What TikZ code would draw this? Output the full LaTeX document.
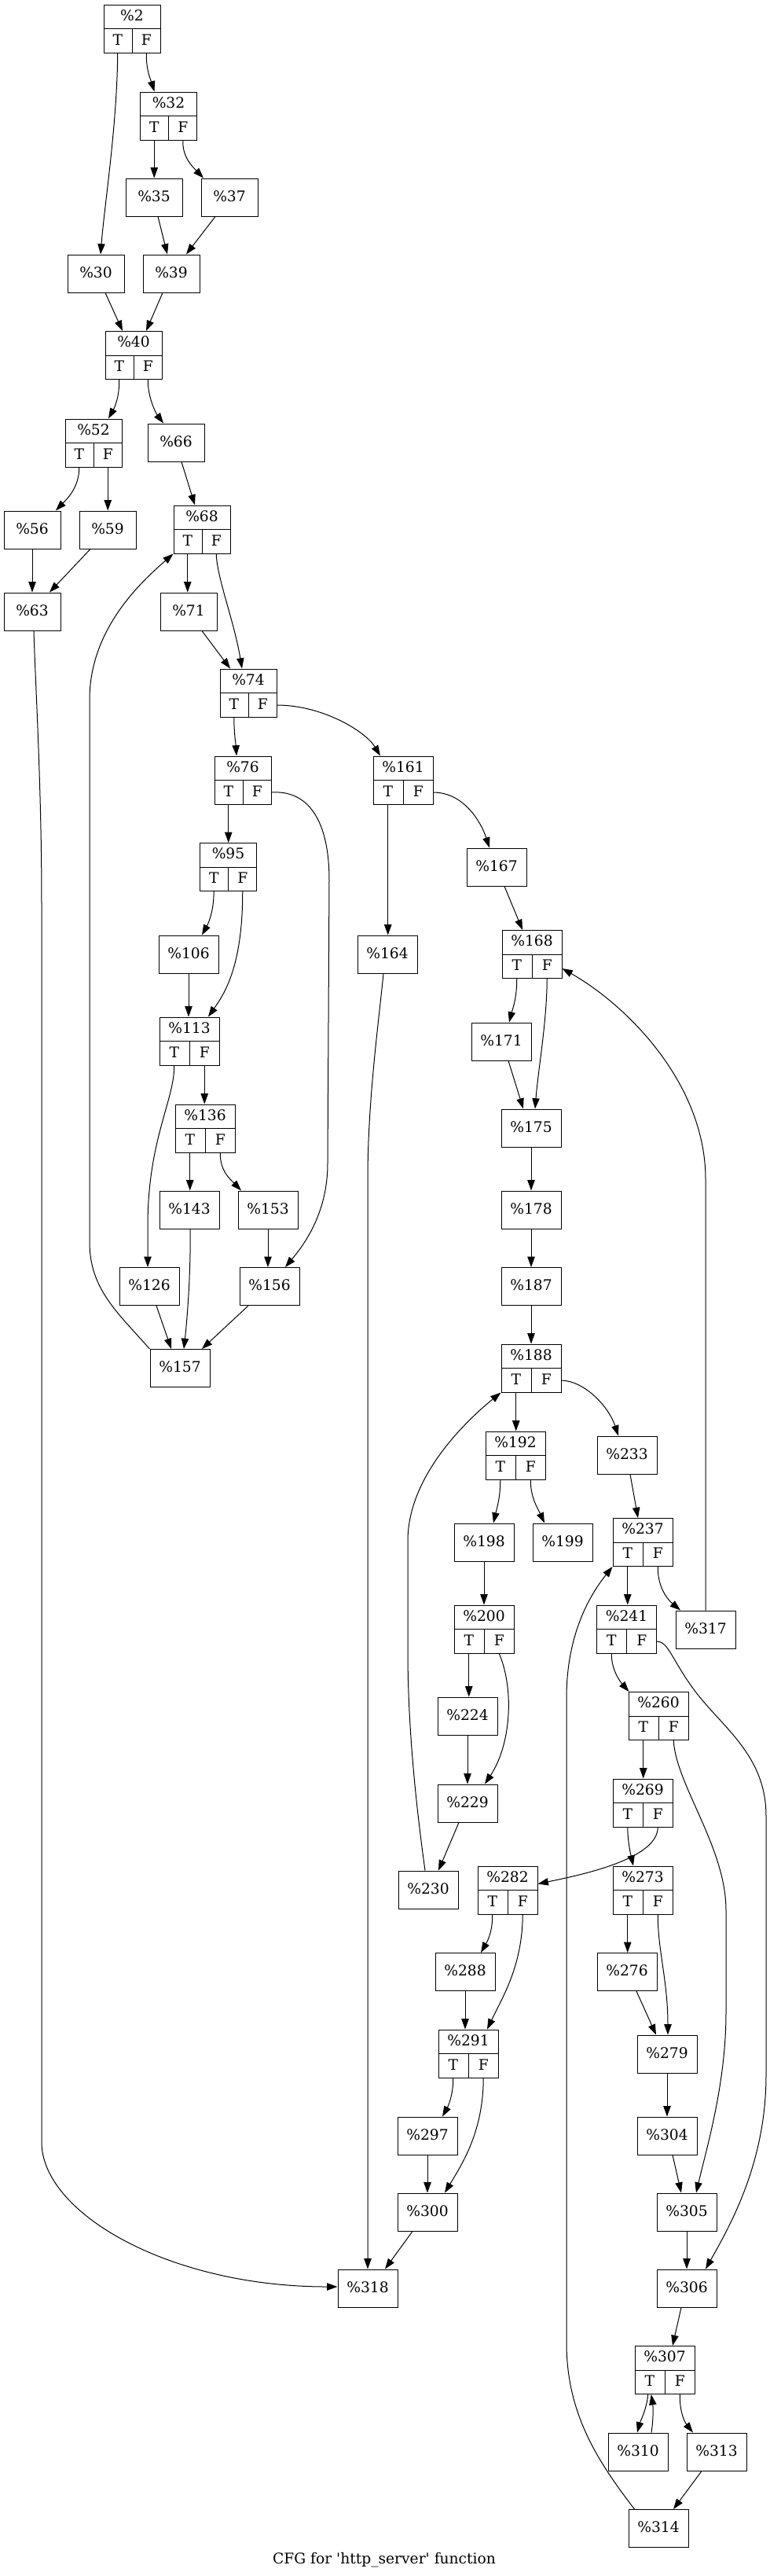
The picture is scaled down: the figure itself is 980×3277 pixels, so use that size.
\documentclass[tikz,border=0pt]{standalone}
\usepackage{fontspec}
\setmainfont{DejaVu Serif}
\usetikzlibrary{arrows.meta,calc}
\tikzset{
 lbl/.style={font=\fontsize{14}{16}\selectfont, inner sep=0pt, text height=10.2pt, text depth=2.2pt},
 sbox/.style={draw, line width=0.75pt, minimum height=36pt, inner sep=0pt, lbl},
 rbox/.style={draw, line width=0.75pt, minimum height=45.75pt, inner sep=0pt},
 wa/.style={minimum width=54pt},
 wb/.style={minimum width=57pt},
 cline/.style={line width=0.75pt},
 e/.style={draw, line width=0.75pt, -{Triangle[length=10pt,width=7pt]}}
}
\newcommand\recbox[5]{%
 \node[rbox,#4] (#1) at (#2,#3) {};
 \draw[cline] (#1.west) -- (#1.east);
 \draw[cline] (#1.center) -- (#1.south);
 \node[lbl] (#1h) at ($(#1.north)!0.5!(#1.center)$) {#5};
 \node[lbl] (#1t) at ($(#1.south west)!0.5!(#1.center)$) {T};
 \node[lbl] (#1f) at ($(#1.south east)!0.5!(#1.center)$) {F};
 \coordinate (#1T) at ($(#1.south west)!0.5!(#1.south)$);
 \coordinate (#1F) at ($(#1.south)!0.5!(#1.south east)$);
 \coordinate (#1Fe) at ($(#1.east)!0.5!(#1.south east)$);
}
\begin{document}
\begin{tikzpicture}[x=0.75pt,y=-0.75pt]
\useasboundingbox (0,0) rectangle (980,3277);
% record nodes
\recbox{n2}{168}{36.5}{wa}{\%2}
\recbox{n32}{214.5}{147.5}{wa}{\%32}
\recbox{n40}{170}{452}{wa}{\%40}
\recbox{n52}{119}{563.5}{wa}{\%52}
\recbox{n68}{257}{673.5}{wa}{\%68}
\recbox{n74}{316}{881.5}{wa}{\%74}
\recbox{n76}{309}{992.5}{wa}{\%76}
\recbox{n161}{513}{992.5}{wb}{\%161}
\recbox{n95}{290.5}{1103}{wa}{\%95}
\recbox{n168}{677}{1214}{wb}{\%168}
\recbox{n113}{241}{1324.5}{wb}{\%113}
\recbox{n136}{261}{1435.5}{wb}{\%136}
\recbox{n188}{676}{1740.5}{wb}{\%188}
\recbox{n192}{656}{1851.5}{wb}{\%192}
\recbox{n237}{818}{1962}{wb}{\%237}
\recbox{n200}{616}{2072.5}{wb}{\%200}
\recbox{n241}{797.5}{2072.5}{wb}{\%241}
\recbox{n260}{838}{2183}{wb}{\%260}
\recbox{n269}{818}{2293.5}{wb}{\%269}
\recbox{n282}{646}{2404.5}{wb}{\%282}
\recbox{n273}{818}{2404.5}{wb}{\%273}
\recbox{n291}{596}{2612.5}{wb}{\%291}
\recbox{n307}{846}{3015}{wb}{\%307}
% simple nodes
\node[sbox,wa] (n35) at (196,251) {\%35};
\node[sbox,wa] (n37) at (292,251) {\%37};
\node[sbox,wa] (n30) at (122,348) {\%30};
\node[sbox,wa] (n39) at (218,348) {\%39};
\node[sbox,wa] (n66) at (224,563) {\%66};
\node[sbox,wa] (n56) at (41,674) {\%56};
\node[sbox,wa] (n59) at (137,674) {\%59};
\node[sbox,wa] (n63) at (41,778) {\%63};
\node[sbox,wa] (n71) at (240,778) {\%71};
\node[sbox,wb] (n167) at (632,1103) {\%167};
\node[sbox,wb] (n106) at (240,1214) {\%106};
\node[sbox,wb] (n164) at (493,1214) {\%164};
\node[sbox,wb] (n171) at (638,1325) {\%171};
\node[sbox,wb] (n175) at (676,1435) {\%175};
\node[sbox,wb] (n143) at (241,1539) {\%143};
\node[sbox,wb] (n153) at (341,1539) {\%153};
\node[sbox,wb] (n178) at (676,1539) {\%178};
\node[sbox,wb] (n126) at (190,1636.5) {\%126};
\node[sbox,wb] (n156) at (343,1636.5) {\%156};
\node[sbox,wb] (n187) at (676,1636.5) {\%187};
\node[sbox,wb] (n157) at (229,1740.5) {\%157};
\node[sbox,wb] (n233) at (798,1851) {\%233};
\node[sbox,wb] (n198) at (616,1962) {\%198};
\node[sbox,wb] (n199) at (716,1962) {\%199};
\node[sbox,wb] (n317) at (898,2073) {\%317};
\node[sbox,wb] (n224) at (595,2183) {\%224};
\node[sbox,wb] (n229) at (595,2294) {\%229};
\node[sbox,wb] (n230) at (545,2404) {\%230};
\node[sbox,wb] (n288) at (592,2508.5) {\%288};
\node[sbox,wb] (n276) at (798,2508.5) {\%276};
\node[sbox,wb] (n279) at (849,2613) {\%279};
\node[sbox,wb] (n297) at (544,2717) {\%297};
\node[sbox,wb] (n304) at (849,2717) {\%304};
\node[sbox,wb] (n300) at (544,2814) {\%300};
\node[sbox,wb] (n305) at (874,2814) {\%305};
\node[sbox,wb] (n318) at (468,2911) {\%318};
\node[sbox,wb] (n306) at (874,2911) {\%306};
\node[sbox,wb] (n310) at (812,3119) {\%310};
\node[sbox,wb] (n313) at (912,3119) {\%313};
\node[sbox,wb] (n314) at (838,3216.5) {\%314};
\node[lbl] (cap) at (489,3256) {CFG for \textquotesingle http\_server\textquotesingle\ function};
% edges
\draw[e] (n2T) .. controls (149,160) and (133,260) .. ($(n30.north)+(6,0)$);
\draw[e] (n2F) .. controls (186,90) and (192,102) .. ($(n32.north)+(-18,0)$);
\draw[e] (n32T) -- (n32T |- n35.north);
\draw[e] (n32F) .. controls (232,200) and (245,212) .. ($(n37.north)+(-33,0)$);
\draw[e] ($(n35.south)+(5,0)$) -- ($(n39.north)+(-5,0)$);
\draw[e] ($(n37.south)+(-18,0)$) -- ($(n39.north)+(19,0)$);
\draw[e] ($(n30.south)+(12,0)$) -- ($(n40.north)+(-14,0)$);
\draw[e] ($(n39.south)+(-11,0)$) -- ($(n40.north)+(16,0)$);
\draw[e] (n40T) .. controls (152,505) and (146,518) .. ($(n52.north)+(19,0)$);
\draw[e] (n40F) .. controls (188,505) and (198,525) .. ($(n66.north)+(-16,0)$);
\draw[e] (n52T) .. controls (101,620) and (85,635) .. ($(n56.north)+(30,0)$);
\draw[e] (n52F) -- (n52F |- n59.north);
\draw[e] (n56.south) -- (n63.north);
\draw[e] ($(n59.south)+(-22,0)$) -- ($(n63.north)+(22,0)$);
\draw[e] ($(n66.south)+(7,0)$) -- ($(n68.north)+(-9,0)$);
\draw[e] (n68T) -- (n68T |- n71.north);
\draw[e] (n68F) .. controls (276,735) and (298,790) .. ($(n74.north)+(-8,0)$);
\draw[e] ($(n71.south)+(17,0)$) -- ($(n74.north)+(-23,0)$);
\draw[e] ($(n63.south)+(2,0)$) .. controls (45,870) and (53,1000) .. (53,1150) -- (53,2725) .. controls (53,2815) and (215,2909) .. ($(n318.west)+(0,-2)$);
\draw[e] (n157.north west) .. controls (150,1670) and (114,1640) .. (114,1580) -- (114,890) .. controls (114,800) and (180,740) .. (n68.south west);
\draw[e] (n74T) .. controls (298,935) and (300,945) .. ($(n76.north)+(-8,0)$);
\draw[e] (n74Fe) .. controls (410,897) and (465,930) .. ($(n161.north)+(-29,0)$);
\draw[e] (n76T) -- (n76T |- n95.north);
\draw[e] (n76Fe) .. controls (390,1005) and (419,1040) .. (419,1120) -- (417,1480) .. controls (417,1540) and (390,1580) .. ($(n156.north)+(20,0)$);
\draw[e] (n95T) .. controls (272,1160) and (265,1175) .. ($(n106.north)+(17,0)$);
\draw[e] (n95F) .. controls (309,1230) and (285,1265) .. ($(n113.north)+(24,0)$);
\draw[e] (n106.south) -- (n106.south |- n113.north);
\draw[e] (n113T) .. controls (222,1400) and (188,1450) .. (188,1560) -- ($(n126.north)+(-2,0)$);
\draw[e] (n113F) -- (n113F |- n136.north);
\draw[e] (n136T) -- (n136T |- n143.north);
\draw[e] (n136F) .. controls (280,1490) and (293,1500) .. ($(n153.north)+(-34,0)$);
\draw[e] ($(n143.south)+(1,0)$) .. controls (243,1620) and (238,1680) .. ($(n157.north)+(5,0)$);
\draw[e] (n153.south) -- (n153.south |- n156.north);
\draw[e] ($(n126.south)+(9,0)$) -- ($(n157.north)+(-11,0)$);
\draw[e] ($(n156.south)+(-27,0)$) -- ($(n157.north)+(28,0)$);
\draw[e] (n161T) -- (n161T |- n164.north);
\draw[e] (n161Fe) .. controls (590,1008) and (612,1045) .. ($(n167.north)+(-9,0)$);
\draw[e] ($(n164.south)+(-5,0)$) .. controls (482,1300) and (468,1400) .. (468,1500) -- (n318.north);
\draw[e] ($(n167.south)+(10,0)$) -- ($(n168.north)+(-12,0)$);
\draw[e] (n168T) .. controls (658,1270) and (652,1285) .. ($(n171.north)+(10,0)$);
\draw[e] (n168F) .. controls (696,1300) and (685,1360) .. ($(n175.north)+(5,0)$);
\draw[e] ($(n171.south)+(9,0)$) -- ($(n175.north)+(-10,0)$);
\draw[e] (n175.south) -- (n178.north);
\draw[e] (n178.south) -- (n187.north);
\draw[e] (n187.south) -- (n188.north);
\draw[e] (n188T) -- (n188T |- n192.north);
\draw[e] (n188Fe) .. controls (745,1757) and (775,1790) .. ($(n233.north)+(-11,0)$);
\draw[e] (n192T) .. controls (637,1905) and (632,1920) .. ($(n198.north)+(12,0)$);
\draw[e] (n192F) .. controls (675,1905) and (685,1920) .. ($(n199.north)+(-23,0)$);
\draw[e] (n198.south) -- (n200.north);
\draw[e] (n200T) -- (n200T |- n224.north);
\draw[e] (n200F) .. controls (655,2150) and (650,2220) .. ($(n229.north)+(22,0)$);
\draw[e] (n224.south) -- (n229.north);
\draw[e] ($(n229.south)+(-11,0)$) -- ($(n230.north)+(13,0)$);
\draw[e] ($(n230.north)+(-4,0)$) .. controls (530,2300) and (519,2200) .. (519,2100) -- (519,1960) .. controls (519,1880) and (590,1810) .. (n188.south west);
\draw[e] ($(n233.south)+(4,0)$) -- ($(n237.north)+(-6,0)$);
\draw[e] (n237T) -- (n237T |- n241.north);
\draw[e] (n237F) .. controls (837,2020) and (850,2035) .. ($(n317.north)+(-32,0)$);
\draw[e] (n317.north) -- (898,1500) .. controls (898,1380) and (800,1280) .. ($(n168.east)+(0,18)$);
\draw[e] (n241T) .. controls (778,2125) and (790,2140) .. ($(n260.north west)+(1,0)$);
\draw[e] (n241Fe) .. controls (850,2088) and (855,2110) .. (880,2145) .. controls (915,2195) and (975,2230) .. (975,2310) -- (975,2640) .. controls (975,2750) and (930,2830) .. ($(n306.north)+(24,0)$);
\draw[e] (n260T) -- (n260T |- n269.north);
\draw[e] (n260F) .. controls (860,2270) and (924,2350) .. (924,2430) -- (924,2560) .. controls (924,2650) and (900,2730) .. ($(n305.north)+(12,0)$);
\draw[e] (n269T) .. controls (799,2345) and (803,2360) .. ($(n273.north)+(-12,0)$);
\draw[e] (n269F) .. controls (837,2365) and (740,2385) .. ($(n282.east)+(0,-8)$);
\draw[e] (n273T) -- (n273T |- n276.north);
\draw[e] (n273F) .. controls (837,2480) and (850,2520) .. ($(n279.north)+(1,0)$);
\draw[e] ($(n276.south)+(12,0)$) -- ($(n279.north)+(-14,0)$);
\draw[e] (n279.south) -- (n304.north);
\draw[e] ($(n304.south)+(7,0)$) -- ($(n305.north)+(-7,0)$);
\draw[e] (n305.south) -- (n306.north);
\draw[e] ($(n306.south)+(-7,0)$) -- ($(n307.north)+(10,0)$);
\draw[e] ($(n307T)+(-2,0)$) .. controls (823,3065) and (815,3080) .. ($(n310.north)+(-1,0)$);
\draw[e] ($(n310.north)+(17,0)$) .. controls (832,3075) and (831,3060) .. ($(n307T)+(2,0)$);
\draw[e] (n307F) .. controls (865,3070) and (872,3082) .. ($(n313.north)+(-30,0)$);
\draw[e] ($(n313.south)+(-19,0)$) -- ($(n314.north)+(19,0)$);
\draw[e] ($(n314.north west)+(8,0)$) .. controls (760,3130) and (721,3070) .. (721,2980) -- (721,2160) .. controls (721,2080) and (750,2030) .. (n237.south west);
\draw[e] (n282T) .. controls (627,2458) and (620,2470) .. ($(n288.north)+(20,0)$);
\draw[e] (n282F) .. controls (665,2500) and (640,2540) .. ($(n291.north)+(24,0)$);
\draw[e] (n288.south) -- (n288.south |- n291.north);
\draw[e] (n291T) .. controls (577,2665) and (570,2680) .. ($(n297.north)+(19,0)$);
\draw[e] (n291F) .. controls (615,2710) and (590,2750) .. ($(n300.north)+(22,0)$);
\draw[e] (n297.south) -- (n300.north);
\draw[e] ($(n300.south)+(-19,0)$) -- ($(n318.north)+(22,0)$);
\end{tikzpicture}
\end{document}
